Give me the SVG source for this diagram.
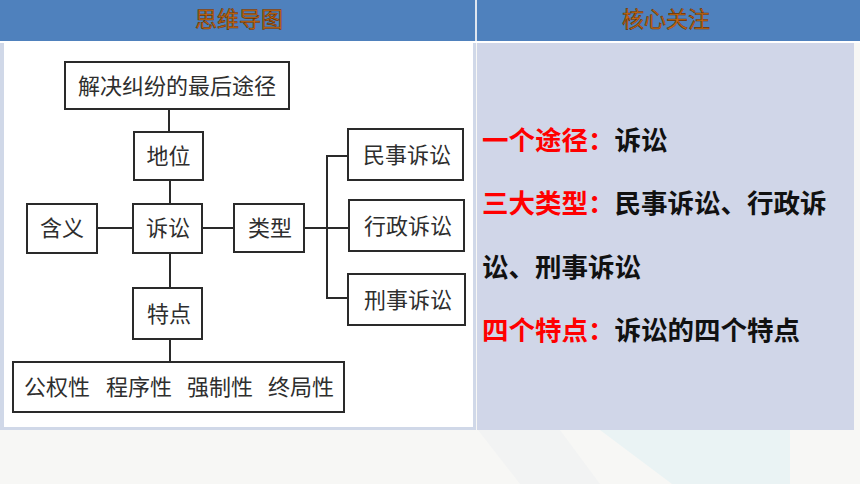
<svg xmlns="http://www.w3.org/2000/svg" width="860" height="484" viewBox="0 0 860 484">
<style>
.box{fill:#ffffff;stroke:#2a2a2a;stroke-width:2}
.t{font-family:"Noto Sans CJK SC","Liberation Sans",sans-serif;font-size:22px;fill:#2e2e2e;text-anchor:middle}
.tl{font-family:"Noto Sans CJK SC","Liberation Sans",sans-serif;font-size:22px;fill:#2e2e2e}
.hd{font-family:"Noto Sans CJK SC","Liberation Sans",sans-serif;font-size:22px;fill:#c96a12;stroke:#6b3300;stroke-width:0.6;text-anchor:middle}
.r{font-family:"Noto Sans CJK SC","Liberation Sans",sans-serif;font-size:26.5px;font-weight:bold;fill:#111111}
.red{fill:#ff0000}
.ln{stroke:#2a2a2a;stroke-width:2;fill:none}
</style>
<rect x="0" y="0" width="860" height="484" fill="#f7f7f5"/>
<polygon points="600,430 790,430 790,484 672,484" fill="#eaf3f4"/>
<polygon points="478,430 560,430 600,484 520,484" fill="#f2f3f3"/>
<!-- header -->
<rect x="0" y="0" width="860" height="41" fill="#4f81bd"/>
<rect x="475" y="0" width="2" height="41" fill="#dfe6f0"/>
<rect x="0" y="41" width="860" height="2" fill="#ffffff"/>
<text class="hd" x="239" y="27">思维导图</text>
<text class="hd" x="666" y="27">核心关注</text>
<!-- panels -->
<rect x="0" y="43" width="476" height="387" fill="#d0d8e8"/>
<rect x="4" y="43" width="469" height="384" fill="#ffffff"/>
<rect x="477" y="43" width="377" height="387" fill="#d0d6e8"/>
<!-- connectors -->
<g id="connectors">
<line class="ln" x1="169" y1="109" x2="169" y2="132"/>
<line class="ln" x1="170" y1="180" x2="170" y2="204"/>
<line class="ln" x1="97" y1="228" x2="133" y2="228"/>
<line class="ln" x1="202" y1="228" x2="234" y2="228"/>
<line class="ln" x1="304" y1="228" x2="349" y2="228"/>
<polyline class="ln" points="348,156 327,156 327,298 348,298"/>
<line class="ln" x1="170" y1="253" x2="170" y2="288"/>
<line class="ln" x1="170" y1="339" x2="170" y2="362"/>
</g>
<!-- nodes -->
<g id="node-top">
<rect class="box" x="65" y="62" width="224" height="47"/>
<text class="t" x="177" y="94">解决纠纷的最后途径</text>
</g>
<g id="node-diwei">
<rect class="box" x="134" y="132" width="69" height="48"/>
<text class="t" x="168.5" y="164">地位</text>
</g>
<g id="node-hanyi">
<rect class="box" x="27" y="204" width="70" height="49"/>
<text class="t" x="62" y="236">含义</text>
</g>
<g id="node-susong">
<rect class="box" x="133" y="204" width="69" height="49"/>
<text class="t" x="168" y="236">诉讼</text>
</g>
<g id="node-leixing">
<rect class="box" x="234" y="204" width="70" height="48"/>
<text class="t" x="270" y="236">类型</text>
</g>
<g id="node-minshi">
<rect class="box" x="348" y="129" width="115" height="51"/>
<text class="t" x="407" y="163">民事诉讼</text>
</g>
<g id="node-xingzheng">
<rect class="box" x="349" y="200" width="115" height="51"/>
<text class="t" x="408" y="234">行政诉讼</text>
</g>
<g id="node-xingshi">
<rect class="box" x="348" y="274" width="117" height="51"/>
<text class="t" x="408" y="308">刑事诉讼</text>
</g>
<g id="node-tedian">
<rect class="box" x="133" y="288" width="69" height="51"/>
<text class="t" x="169" y="322">特点</text>
</g>
<g id="node-bottom">
<rect class="box" x="13" y="362" width="331" height="50"/>
<text class="tl" x="24" y="395">公权性</text>
<text class="tl" x="106" y="395">程序性</text>
<text class="tl" x="187" y="395">强制性</text>
<text class="tl" x="268" y="395">终局性</text>
</g>
<!-- right panel -->
<g id="focus">
<text class="r" x="482" y="150"><tspan class="red">一个途径：</tspan>诉讼</text>
<text class="r" x="482" y="213"><tspan class="red">三大类型：</tspan>民事诉讼、行政诉</text>
<text class="r" x="482" y="277">讼、刑事诉讼</text>
<text class="r" x="482" y="340"><tspan class="red">四个特点：</tspan>诉讼的四个特点</text>
</g>
</svg>
